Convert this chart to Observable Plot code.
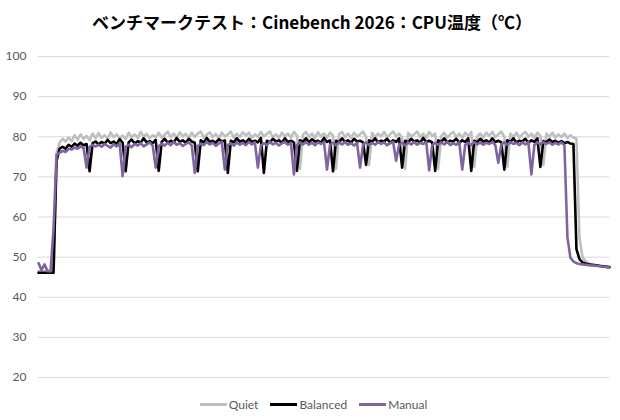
<!DOCTYPE html>
<html>
<head>
<meta charset="utf-8">
<script src="https://cdn.jsdelivr.net/npm/d3@7"></script>
<script src="https://cdn.jsdelivr.net/npm/@observablehq/plot@0.6"></script>
<style>
  html, body { margin: 0; padding: 0; background: #fff; }
  #wrap { width: 620px; height: 420px; position: relative; overflow: hidden; }
  #title { height: 40px; line-height: 44px; text-align: center; font-family: "Noto Sans CJK JP", sans-serif; font-weight: bold; font-size: 17px; color: #000; padding-left: 4px; }
  #legend { height: 28px; display: flex; justify-content: center; align-items: center; padding-left: 7px; font-family: Lato, "Liberation Sans", sans-serif; font-size: 12px; color: #595959; }
  .item { display: flex; align-items: center; margin: 0 6px; }
  .sw { width: 27px; height: 3px; margin-right: 2px; }
  svg { display: block; }
</style>
</head>
<body>
<div id="wrap">
  <div id="title">ベンチマークテスト：Cinebench 2026：CPU温度（℃）</div>
  <div id="chart"></div>
  <div id="legend"></div>
</div>
<script>
const seriesNames = ["Quiet", "Balanced", "Manual"];
const seriesColors = ["#bfbfbf", "#000000", "#8064a2"];
const yTicks = [20, 30, 40, 50, 60, 70, 80, 90, 100];

const quiet = [
  46.5, 46.5, 46.5, 46.5, 46.5, 46.5, 76, 78.5, 79.5, 78.8,
  79.8, 78.9, 80.4, 79.3, 80.6, 79.5, 80.2, 79.1, 80.8, 79.6,
  80.9, 79.7, 80.4, 79.5, 81.1, 79.9, 80.6, 79.6, 80.3, 79.4,
  81, 79.9, 80.6, 79.7, 81.2, 80, 80.7, 79.6, 80.4, 79.9,
  81, 79.8, 80.5, 81.3, 79.9, 80.8, 79.7, 81.1, 80.1, 80.7,
  79.7, 81, 80, 80.8, 81.3, 79.8, 80.5, 81.1, 79.9, 80.7,
  79.7, 81, 80.1, 80.6, 81.3, 79.8, 80.7, 80, 81.1, 80.3,
  81, 79.7, 80.6, 80, 81.2, 80.1, 80.7, 81.3, 79.9, 80.6,
  79.7, 81, 80.1, 80.8, 79.8, 81.2, 80.3, 72, 80.5, 81.2,
  79.9, 80.8, 79.7, 81.1, 80.1, 80.8, 79.8, 81, 80.3, 72,
  80.6, 81.2, 79.9, 80.8, 79.7, 81, 80.1, 80.6, 81.3, 80,
  73, 81, 79.8, 80.8, 80.1, 81.2, 79.9, 80.6, 81.3, 80.1,
  80.8, 79.8, 72, 81, 80.1, 80.6, 81.3, 79.9, 80.8, 79.7,
  81.2, 80.2, 80.8, 72, 80.1, 81, 79.8, 80.6, 81.2, 79.9,
  80.8, 79.7, 81, 80.2, 81.2, 72.5, 80.1, 80.8, 79.8, 81,
  80.2, 81.2, 79.9, 80.6, 81.3, 80, 72.5, 80.8, 79.9, 81,
  79.8, 80.6, 81.2, 80, 80.8, 79.7, 81, 80.2, 73, 80.8,
  80, 81, 79.8, 80.6, 79.9, 80.8, 79.7, 80.4, 79.8, 79.5,
  55, 50, 49, 48.5, 48.2, 48, 47.9, 47.8, 47.7, 47.6,
  47.5
];

const balanced = [
  46.1, 46.1, 46.1, 46.1, 46.1, 46.1, 74, 77, 77.5, 77,
  78, 77.5, 78.3, 77.8, 78.5, 77.9, 78.2, 71.4, 78.4, 78.8,
  78.1, 78.7, 78.3, 79.2, 78.4, 78.8, 78.2, 79.4, 78.5, 71.4,
  78.6, 79.3, 78.3, 78.9, 78.5, 79.6, 78.6, 78.9, 78.4, 79.2,
  71.5, 78.7, 79.5, 78.5, 79, 78.6, 79.7, 78.7, 79.1, 78.5,
  79.5, 78.8, 78.5, 71.4, 79.1, 78.6, 79.7, 78.7, 79, 78.5,
  79.4, 78.8, 79.1, 71, 79, 78.6, 79.6, 78.8, 79.1, 78.5,
  79.5, 78.7, 79, 78.6, 79.7, 71, 79, 78.6, 79.5, 78.8,
  79.1, 78.5, 79.6, 78.7, 79, 78.6, 71.5, 79.1, 78.7, 79.6,
  78.6, 79.4, 78.8, 79, 78.5, 79.7, 78.7, 79.1, 71.4, 79,
  78.6, 79.6, 78.7, 79.1, 78.5, 79.5, 78.8, 79, 78.6, 73,
  79.1, 78.7, 79.6, 78.6, 79, 78.8, 79.5, 78.5, 79.1, 78.7,
  79.6, 72.3, 79, 78.6, 79.5, 78.8, 79.1, 78.5, 79.7, 78.7,
  79, 78.6, 71.5, 79.1, 78.7, 79.6, 78.6, 79, 78.8, 79.5,
  78.5, 79.1, 78.7, 79.6, 71.5, 79, 78.6, 79.5, 78.8, 79.1,
  78.5, 79.6, 78.7, 79, 78.6, 71.8, 79.1, 78.7, 79.6, 78.6,
  79, 78.8, 79.5, 78.5, 79.1, 78.7, 79.6, 72.5, 78.9, 78.6,
  79.3, 78.7, 79, 78.5, 78.9, 78.4, 78.7, 78.3, 78.2, 52,
  49.5, 48.7, 48.4, 48.2, 48.1, 48, 47.9, 47.8, 47.7, 47.6,
  47.5
];

const manual = [
  48.5, 46.8, 48.2, 46.5, 46.5, 57, 75.5, 76, 76.5, 76.2,
  77, 76.8, 77.3, 77, 77.6, 77.2, 72.3, 77.5, 78, 77.6,
  78, 77.5, 78.2, 77.7, 77.3, 78.1, 77.6, 78.3, 70.2, 77.5,
  78, 77.4, 78.2, 77.8, 78.4, 77.6, 78.1, 78.6, 77.8, 72.3,
  77.6, 78.3, 77.8, 78.5, 77.9, 78.7, 78, 78.4, 77.7, 78.2,
  78.6, 77.8, 71, 77.7, 78.3, 77.9, 78.7, 78.1, 78.5, 77.7,
  78.3, 78.7, 71.8, 77.9, 78.4, 77.8, 78.6, 78, 78.5, 77.9,
  78.7, 78.1, 78.6, 72.3, 77.8, 78.4, 77.9, 78.7, 78.1, 78.5,
  77.8, 78.4, 78.7, 78, 78.5, 70.6, 77.9, 78.6, 78.1, 78.7,
  78, 78.5, 77.9, 78.6, 78.2, 78.7, 71.8, 78, 78.5, 77.9,
  78.6, 78.1, 78.7, 78, 78.4, 77.8, 78.5, 72.3, 78.1, 78.6,
  77.9, 78.5, 78, 78.7, 78.2, 78.6, 77.9, 78.4, 78.7, 74,
  78, 78.5, 77.8, 78.6, 78.1, 78.7, 78, 78.5, 78.2, 78.7,
  71.6, 77.9, 78.5, 78, 78.6, 78.1, 78.7, 77.9, 78.4, 78,
  78.6, 71.8, 78, 78.5, 77.9, 78.7, 78.1, 78.6, 78, 78.5,
  78.2, 78.7, 77.9, 73.5, 78.1, 78.6, 78, 78.7, 78.2, 78.5,
  77.9, 78.6, 78.1, 78.7, 70.6, 78, 78.6, 78.1, 78.7, 78.2,
  78.6, 78, 78.5, 78.1, 78.6, 77.9, 55, 49.8, 48.9, 48.5,
  48.3, 48.2, 48.1, 48, 47.9, 47.9, 47.8, 47.7, 47.6, 47.5,
  47.4
];

const allSeries = [quiet, balanced, manual];

const chart = Plot.plot({
  width: 620,
  height: 350,
  marginTop: 16,
  marginBottom: 13,
  marginLeft: 38,
  marginRight: 11,
  x: { domain: [0, quiet.length - 1], axis: null },
  y: { domain: [20, 100], ticks: yTicks, label: null },
  style: { fontFamily: "Lato, 'Liberation Sans', sans-serif", background: "#fff" },
  marks: [
    Plot.gridY(yTicks, { stroke: "#d9d9d9", strokeOpacity: 1, strokeWidth: 1 }),
    Plot.axisY(yTicks, { tickSize: 0, tickPadding: 12, fontSize: 12, fill: "#595959", label: null }),
    ...allSeries.map((s, k) =>
      Plot.line(s, {
        x: (d, i) => i,
        y: d => d,
        stroke: seriesColors[k],
        strokeWidth: 2.6,
        strokeLinejoin: "round",
        strokeLinecap: "round"
      })
    )
  ]
});
document.getElementById("chart").appendChild(chart);

const legend = document.getElementById("legend");
seriesNames.forEach((name, k) => {
  const item = document.createElement("div");
  item.className = "item";
  const sw = document.createElement("span");
  sw.className = "sw";
  sw.style.background = seriesColors[k];
  const tx = document.createElement("span");
  tx.textContent = name;
  item.appendChild(sw);
  item.appendChild(tx);
  legend.appendChild(item);
});
</script>
</body>
</html>
